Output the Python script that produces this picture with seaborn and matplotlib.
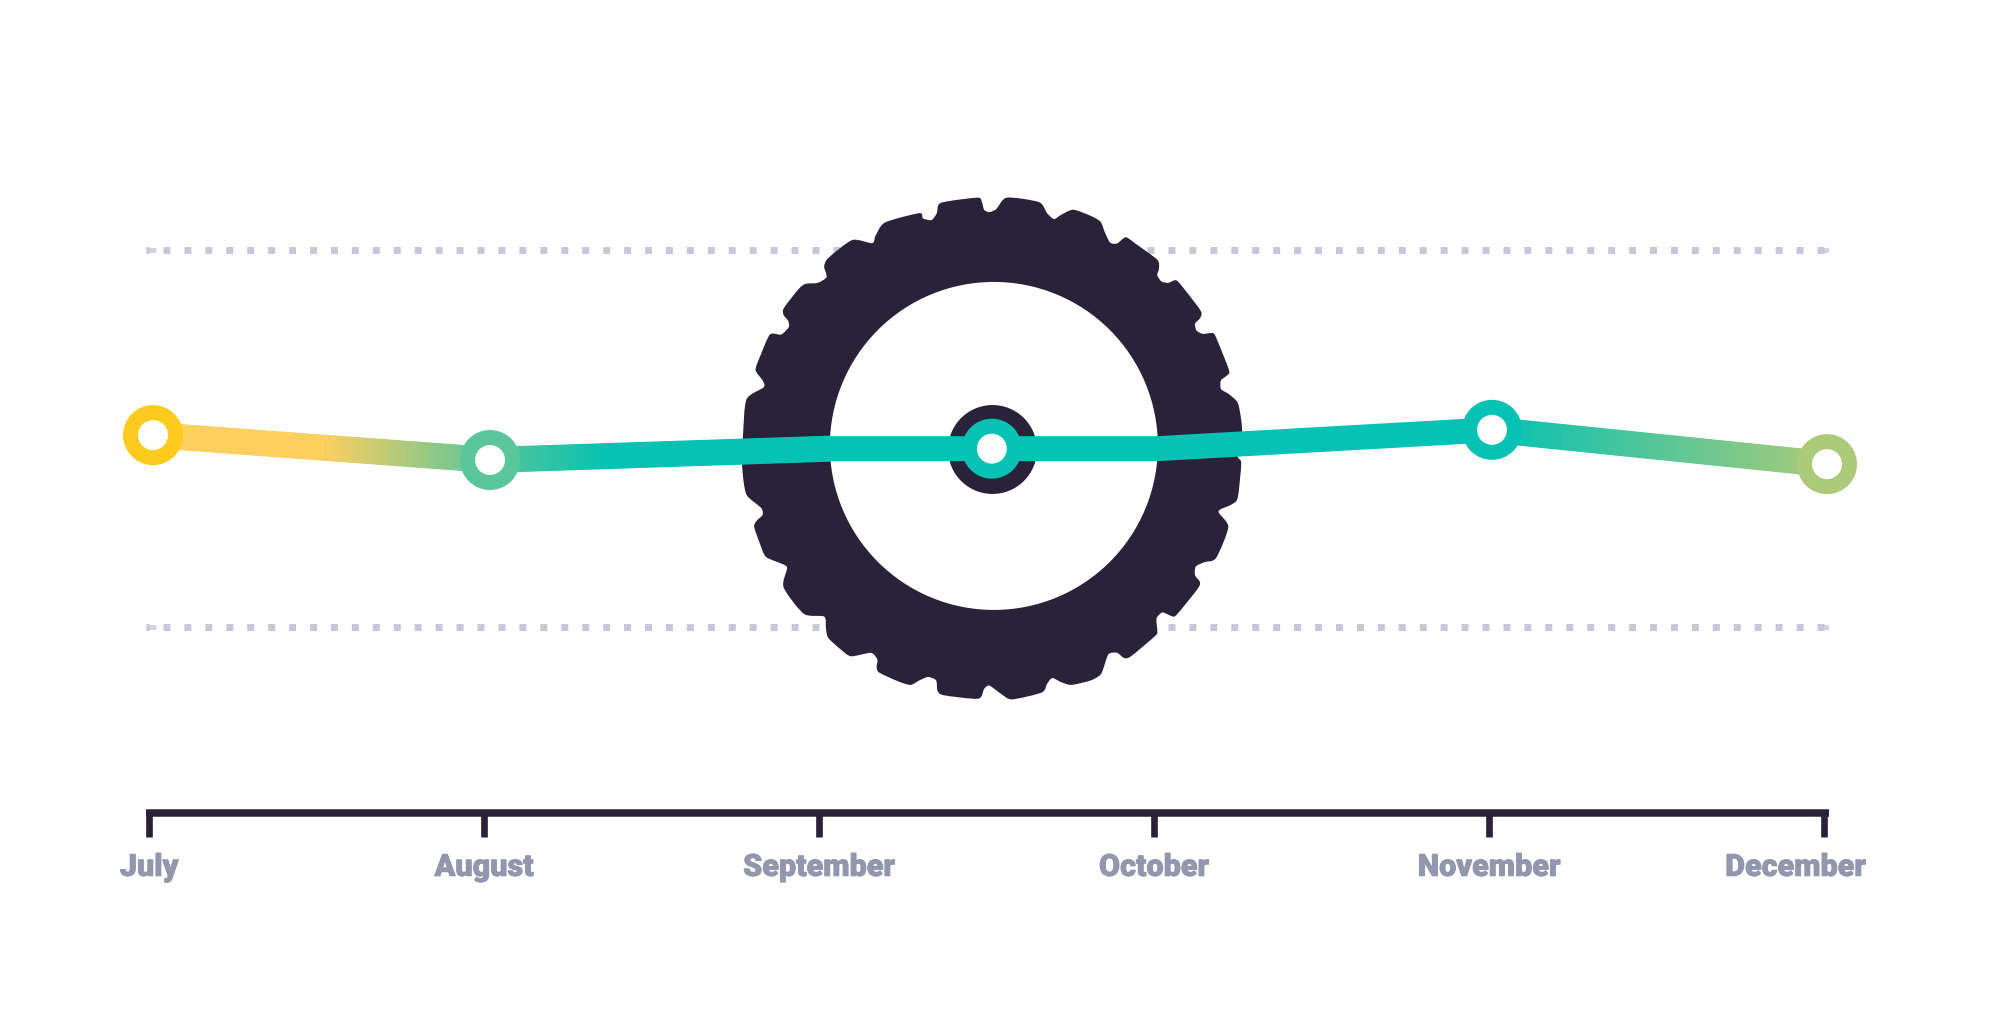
import numpy as np
import pandas as pd
import seaborn as sns
import matplotlib.pyplot as plt
import matplotlib.patheffects as pe
from matplotlib.colors import LinearSegmentedColormap
from matplotlib.patches import Circle, Polygon, PathPatch
from matplotlib.path import Path
from matplotlib.transforms import IdentityTransform, ScaledTranslation

months = ['July', 'August', 'September', 'October', 'November', 'December']

# line vertices, x in months since July, y in percent between the two dotted lines
line_x = [0.012, 1.018, 2.033, 2.516, 3.009, 4.009, 5.009]
line_y = [50.9, 44.3, 47.3, 47.3, 47.3, 52.3, 43.2]

# only these ones get a ring
point_x = [0.012, 1.018, 2.516, 4.009, 5.009]
point_y = [50.9, 44.3, 47.3, 52.3, 43.2]
point_colors = ['#FCCB1D', '#5AC69A', '#05C2B4', '#05C2B4', '#ABCB7B']

grid_levels = [0, 100]

DARK = '#2A2238'
TEAL = '#05C2B4'
GRID = '#C5C8D8'

# tyre outline, pixels in the zoomed crop
tyre_outline = [(735,55),(748,65),(755,90),(770,97),(790,88),(820,55),(912,68),(935,100),(955,117),(975,105),
    (1010,90),(1060,108),(1088,125),(1100,155),(1115,185),(1135,188),(1160,170),(1190,190),(1250,235),(1255,260),
    (1250,280),(1262,298),(1282,302),(1305,295),(1335,330),(1375,385),(1372,405),(1358,420),(1362,440),(1380,450),
    (1410,448),(1422,470),(1455,555),(1450,570),(1432,585),(1432,610),(1455,625),(1480,650),(1490,700),(1492,740),
    (1480,805),(1490,825),(1480,925),(1462,945),(1425,965),(1453,1010),(1418,1100),(1385,1112),(1360,1125),(1358,1150),
    (1372,1170),(1365,1190),(1305,1265),(1290,1268),(1265,1258),(1248,1275),(1250,1310),(1245,1325),(1175,1385),(1155,1390),
    (1135,1375),(1110,1380),(1090,1435),(1060,1455),(1005,1468),(975,1460),(950,1448),(935,1465),(920,1490),(835,1510),
    (805,1495),(770,1470),(755,1480),(738,1508),(640,1498),(622,1485),(618,1455),(595,1445),(570,1455),(545,1468),
    (510,1458),(455,1432),(448,1415),(450,1395),(432,1375),(375,1385),(345,1365),(310,1332),(303,1305),(298,1270),
    (240,1262),(182,1185),(192,1130),(180,1118),(132,1097),(115,1060),(98,1010),(105,992),(122,975),(118,955),
    (78,920),(68,880),(63,820),(66,745),(76,640),(125,605),(122,585),(102,555),(115,515),(143,452),
    (175,452),(197,430),(195,412),(182,395),(183,375),(225,320),(245,305),(280,302),(305,285),(298,255),
    (310,230),(378,178),(435,187),(445,165),(472,127),(570,100),(580,115),(605,120),(620,100),(632,70)]

W, H = 1990, 1021
LINE_PX = 25

sns.set_theme(style='white')
plt.rcParams['font.family'] = ['Roboto', 'DejaVu Sans']

fig = plt.figure(figsize=(W / 100, H / 100), dpi=100, facecolor='white')
# axes run from the x axis line up to just above the top dotted line
left, right, bottom, top = 146, 1829, 813, 200
ax = fig.add_axes([left / W, 1 - bottom / H, (right - left) / W, (bottom - top) / H])
ax.set_xlim((left - 149) / 335, (right - 149) / 335)
ax.set_ylim((627 - bottom) / 3.77, (627 - top) / 3.77)
ax.set_facecolor('none')

for side in ['top', 'left', 'right']:
    ax.spines[side].set_visible(False)
ax.spines['bottom'].set_linewidth(5.4)
ax.spines['bottom'].set_color(DARK)
ax.spines['bottom'].set_capstyle('butt')

ax.set_xticks(range(len(months)))
ax.set_xticklabels(months, fontsize=22, fontweight=900, color='#9297AD')
ax.tick_params(axis='x', length=17, width=4.8, color=DARK, pad=11, bottom=True)
ax.set_yticks(grid_levels)
ax.set_yticklabels([])
ax.tick_params(axis='y', length=0)
ax.yaxis.grid(True, color=GRID, linewidth=5, linestyle=(0.57, (1, 2.015)), dash_capstyle='butt')
ax.xaxis.grid(False)
ax.set_axisbelow(True)

# short stubs where the dotted lines end
x0, x1 = ax.get_xlim()
stub = 10 / 335
ax.hlines(grid_levels, x0, x0 + stub, color=GRID, linewidth=3.5, alpha=0.8, zorder=1)
ax.hlines(grid_levels, x1 - stub, x1, color=GRID, linewidth=3.5, alpha=0.8, zorder=1)

# heavier labels, the installed font stops short of the original weight
for lab in ax.get_xticklabels():
    lab.set_path_effects([pe.withStroke(linewidth=0.6, foreground='#9297AD')])

# last label sits left of its tick so it doesnt run off the chart
last = ax.get_xticklabels()[-1]
last.set_transform(last.get_transform() + ScaledTranslation(-28.5 / 100, 0, fig.dpi_scale_trans))

# tyre, outline smoothed with catmull-rom handles
cx, cy = ax.transData.transform((2.516, 47.5)) + np.array([2, 2])
outline = np.array(tyre_outline, dtype=float)
outline = (outline - [783, 775]) / [2.858, -2.9] + [cx, cy]
verts = [outline[0]]
codes = [Path.MOVETO]
n_pts = len(outline)
for i in range(n_pts):
    p0, p1, p2, p3 = outline[i - 1], outline[i], outline[(i + 1) % n_pts], outline[(i + 2) % n_pts]
    verts += [p1 + (p2 - p0) / 8, p2 - (p3 - p1) / 8, p2]
    codes += [Path.CURVE4] * 3
ax.add_patch(PathPatch(Path(verts, codes), facecolor=DARK, edgecolor='none', zorder=2,
                       transform=IdentityTransform(), clip_on=False))
ax.add_patch(Circle((cx, cy), 164, facecolor='white', edgecolor='none', zorder=2.1,
                    transform=IdentityTransform(), clip_on=False))

# hub behind the middle ring
sns.scatterplot(x=[2.516], y=[47.3], s=4100, color=DARK, linewidth=0, ax=ax, zorder=3, legend=False, clip_on=False)

df = pd.DataFrame({'x': line_x, 'y': line_y})
sns.lineplot(data=df, x='x', y='y', color=TEAL, linewidth=LINE_PX * 0.72, estimator=None, sort=False, ax=ax,
             zorder=4, solid_joinstyle='round', solid_capstyle='butt')


def gradient_segment(i, stops):
    # colour ramp along one stretch of the line, clipped to the width of the line
    cmap = LinearSegmentedColormap.from_list('seg', stops)
    ramp = np.linspace(0, 1, 256)[None, :]
    y0, y1 = sorted((line_y[i], line_y[i + 1]))
    im = ax.imshow(ramp, cmap=cmap, aspect='auto', origin='lower', interpolation='bilinear', zorder=4.5,
                   extent=(line_x[i], line_x[i + 1], y0 - 6, y1 + 6))
    p0 = ax.transData.transform((line_x[i], line_y[i]))
    p1 = ax.transData.transform((line_x[i + 1], line_y[i + 1]))
    d = (p1 - p0) / np.hypot(*(p1 - p0))
    n = np.array([-d[1], d[0]]) * (LINE_PX + 1) / 2
    clip = Polygon([p0 + n, p1 + n, p1 - n, p0 - n], closed=True, transform=IdentityTransform())
    im.set_clip_path(clip)


xlim, ylim = ax.get_xlim(), ax.get_ylim()
gradient_segment(0, [(0, '#FFCF5F'), (0.5, '#FFCF5F'), (1, '#5AC69A')])
gradient_segment(1, [(0, '#5AC69A'), (0.35, TEAL), (1, TEAL)])
gradient_segment(5, [(0, TEAL), (1, '#ABCB7B')])
ax.set_xlim(xlim)
ax.set_ylim(ylim)

pts = pd.DataFrame({'x': point_x, 'y': point_y, 'c': point_colors})
sns.scatterplot(data=pts, x='x', y='y', s=1050, facecolor='white', edgecolor=pts['c'], linewidth=10.8, ax=ax,
                zorder=5, legend=False, clip_on=False)

ax.set_xlabel('')
ax.set_ylabel('')
fig.savefig('out.png', dpi=100, facecolor='white')
